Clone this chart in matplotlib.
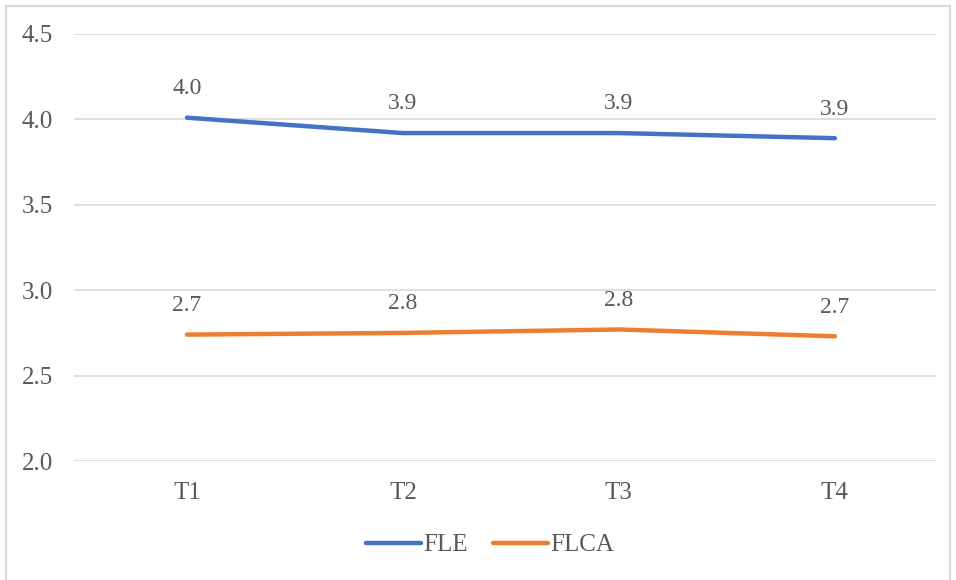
import matplotlib.pyplot as plt
from matplotlib.patches import Rectangle

# Series values per time point
times = ["T1", "T2", "T3", "T4"]
fle = [4.01, 3.92, 3.92, 3.89]
flca = [2.74, 2.75, 2.77, 2.73]

plt.rcParams["font.family"] = ["Liberation Serif", "DejaVu Serif"]
text_color = "#595959"

fig = plt.figure(figsize=(9.56, 5.8), dpi=100)
ax = fig.add_axes([74 / 956, 1 - 461 / 580, (936 - 74) / 956, (461 - 34) / 580])

x = range(len(times))
ax.plot(x, fle, color="#4472C4", lw=3.2, solid_capstyle="round", label="FLE")
ax.plot(x, flca, color="#ED7D31", lw=3.2, solid_capstyle="round", label="FLCA")

# Value labels above each point
for series in (fle, flca):
    for xi, v in zip(x, series):
        ax.annotate(f"{v:.1f}", (xi, v), xytext=(0, 21), textcoords="offset points",
                    ha="center", va="center", fontsize=17, color=text_color)

ax.set_xlim(-0.523, 3.468)
ax.set_ylim(2.0, 4.5)
yt = [2.0, 2.5, 3.0, 3.5, 4.0, 4.5]
ax.set_yticks(yt)
ax.set_yticklabels([f"{t:.1f}" for t in yt])
ax.set_xticks(list(x))
ax.set_xticklabels(times)
ax.tick_params(axis="both", length=0, labelsize=18, colors=text_color)
ax.tick_params(axis="y", pad=15)
ax.tick_params(axis="x", pad=15)
ax.grid(axis="y", color="#D9D9D9", lw=1.2)
ax.set_axisbelow(True)
for s in ax.spines.values():
    s.set_visible(False)

leg = fig.legend(loc="center", bbox_to_anchor=(490 / 956, 1 - 545 / 580), ncol=2, frameon=False,
                 fontsize=18, handlelength=2.2, columnspacing=1.0, handletextpad=0.1)
for t in leg.get_texts():
    t.set_color(text_color)

# Chart border
fig.patches.append(Rectangle((6 / 956, -0.01), 944 / 956, 1 - 6 / 580 + 0.01,
                             transform=fig.transFigure, fill=False,
                             edgecolor="#D9D9D9", lw=1.5))

fig.savefig("out.png", dpi=100)
